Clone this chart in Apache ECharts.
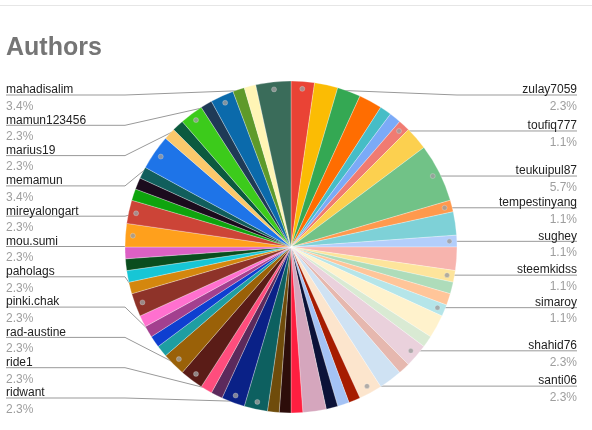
<!DOCTYPE html>
<html>
<head>
<meta charset="utf-8">
<script src="https://cdn.jsdelivr.net/npm/echarts@6/dist/echarts.min.js"></script>
<style>
  html, body { margin: 0; padding: 0; background: #fff; }
  #wrap { position: relative; width: 592px; height: 430px; }
  #chart { position: absolute; left: 0; top: 0; width: 592px; height: 430px; }
  #rule { position: absolute; left: 0; top: 5px; width: 592px; height: 1px; background: #e6e6e6; }
</style>
</head>
<body>
<div id="wrap"><div id="rule"></div><div id="chart"></div></div>
<script>
// Authors, in the order the slices run clockwise from 12 o'clock ('' = slice without a visible label)
const authors = [
  'zulay7059', '', '', '', '', '', 'toufiq777', '', 'teukuipul87', 'tempestinyang', '', 'sughey',
  '', 'steemkidss', '', '', 'simaroy', '', '', 'shahid76', '', '', 'santi06', '', '', '', '', '',
  '', '', 'ridwant', 'ride1', '', '', 'rad-austine', 'pinki.chak', '', '', '', '', 'paholags', '', '', '', '',
  'mou.sumi', 'mireyalongart', '', '', '', 'memamun', '', '', 'marius19', '', 'mamun123456', '', '', 'mahadisalim'
];
// Post counts per author
const counts = [
  2, 2, 2, 2, 1, 1, 1, 2, 5, 1, 2, 1,
  2, 1, 1, 1, 1, 2, 1, 2, 1, 2, 2, 1, 1, 1, 2, 1,
  1, 1, 2, 2, 1, 1, 2, 2, 1, 1, 1, 1, 2, 1, 1, 1, 1,
  2, 2, 1, 1, 1, 3, 1, 1, 2, 1, 2, 1, 1, 3
];
const sliceColors = [
  '#ea4335', '#fbbc04', '#34a853', '#ff6d01', '#46bdc6', '#7baaf7', '#f07b72', '#fcd04f', '#71c287', '#ff994d', '#7ed1d7', '#b3cefb',
  '#f7b4ae', '#fde49b', '#aedcba', '#ffc599', '#b5e5e9', '#fff2cc', '#d9ead3', '#ead1dc', '#e6b8af', '#cfe2f3', '#fce5cd', '#a61c00', '#a4c2f4', '#0c1238', '#d5a6bd', '#ff1f40',
  '#2d0d0a', '#6f4c0b', '#0d6060', '#0a2187', '#5c2a5c', '#ff4d7d', '#5a1c17', '#9a6108', '#1e9ea2', '#0e3fd0', '#a3408f', '#ff70cf', '#8e3329', '#d4870e', '#17c6d5', '#0a4d1e', '#dc60c4',
  '#ffa01c', '#cc4437', '#0ea40d', '#1b0b1d', '#115e5c', '#1e74e8', '#fbc86b', '#0c5a3f', '#3ccb1b', '#1f3a56', '#0b6aab', '#5e9a2a', '#fff5b5', '#3a6c5a'
];

const CX = 291, CY = 247, R = 166;
const DOT_R = 0.955;
const FONT = 'Arial, "Liberation Sans", sans-serif';
const total = counts.reduce((a, b) => a + b, 0);

// Geometry of label anchors, derived from the values
const info = [];
let cum = 0;
counts.forEach((v, i) => {
  const midUnits = cum + v / 2;
  const a = midUnits / total * 2 * Math.PI;
  cum += v;
  info.push({
    midUnits,
    dotX: CX + DOT_R * R * Math.sin(a),
    dotY: CY - DOT_R * R * Math.cos(a),
    right: Math.sin(a) >= 0
  });
});

// Stack labels on each side (min spacing, within top/bottom bounds)
const TOP = 95, BOTTOM = 398, GAP = 30.3;
const lineY = {};
[true, false].forEach(side => {
  const idx = authors.map((n, i) => i).filter(i => authors[i] && info[i].right === side);
  idx.sort((a, b) => info[a].dotY - info[b].dotY);
  const ys = idx.map(i => info[i].dotY);
  for (let k = 0; k < ys.length; k++) {
    const lo = k === 0 ? TOP : ys[k - 1] + GAP;
    ys[k] = Math.max(ys[k], lo);
  }
  for (let k = ys.length - 1; k >= 0; k--) {
    const hi = k === ys.length - 1 ? BOTTOM : ys[k + 1] - GAP;
    ys[k] = Math.min(ys[k], hi);
  }
  idx.forEach((i, k) => { lineY[i] = ys[k]; });
});

const pieData = counts.map((v, i) => {
  const shown = !!authors[i];
  return {
    name: authors[i] || ('slice ' + (i + 1)),
    value: v,
    itemStyle: { color: sliceColors[i] },
    label: { show: shown },
    labelLine: { show: shown }
  };
});

const dotData = authors.map((n, i) => n ? [DOT_R, info[i].midUnits] : null).filter(d => d);

const chart = echarts.init(document.getElementById('chart'), null, { renderer: 'canvas' });
chart.setOption({
  animation: false,
  title: {
    text: 'Authors',
    left: 6,
    top: 36,
    padding: 0,
    textStyle: { fontFamily: FONT, fontSize: 25, fontWeight: 'bold', color: '#757575' }
  },
  polar: { center: [CX, CY], radius: R },
  angleAxis: { type: 'value', min: 0, max: total, startAngle: 90, clockwise: true, show: false, splitLine: { show: false } },
  radiusAxis: { type: 'value', min: 0, max: 1, show: false, splitLine: { show: false } },
  series: [
    {
      type: 'pie',
      center: [CX, CY],
      radius: [0, R],
      startAngle: 90,
      clockwise: true,
      avoidLabelOverlap: false,
      data: pieData,
      itemStyle: { borderColor: 'rgba(255,255,255,0.55)', borderWidth: 0.5 },
      label: {
        position: 'outer',
        formatter: p => '{n|' + p.name + '}\n{p|' + (p.value / total * 100).toFixed(1) + '%}',
        rich: {
          n: { fontFamily: FONT, fontSize: 12, lineHeight: 12, color: '#222222' },
          p: { fontFamily: FONT, fontSize: 12, lineHeight: 21, color: '#9e9e9e' }
        }
      },
      labelLine: { length: 10, length2: 10, lineStyle: { color: '#999999', width: 1 } },
      labelLayout: function (params) {
        const i = params.dataIndex;
        if (!authors[i]) return {};
        const d = info[i];
        const y = lineY[i];
        if (d.right) {
          return {
            x: 577, y: y - 11, align: 'right', verticalAlign: 'top',
            labelLinePoints: [[d.dotX, d.dotY], [CX + R, y], [577, y]]
          };
        }
        return {
          x: 6, y: y - 11, align: 'left', verticalAlign: 'top',
          labelLinePoints: [[d.dotX, d.dotY], [CX - R, y], [6, y]]
        };
      }
    },
    {
      type: 'scatter',
      coordinateSystem: 'polar',
      data: dotData,
      symbolSize: 5,
      z: 5,
      silent: true,
      itemStyle: { color: '#9e9e9e', borderColor: 'rgba(255,255,255,0.6)', borderWidth: 0.5 }
    }
  ]
});
</script>
</body>
</html>
